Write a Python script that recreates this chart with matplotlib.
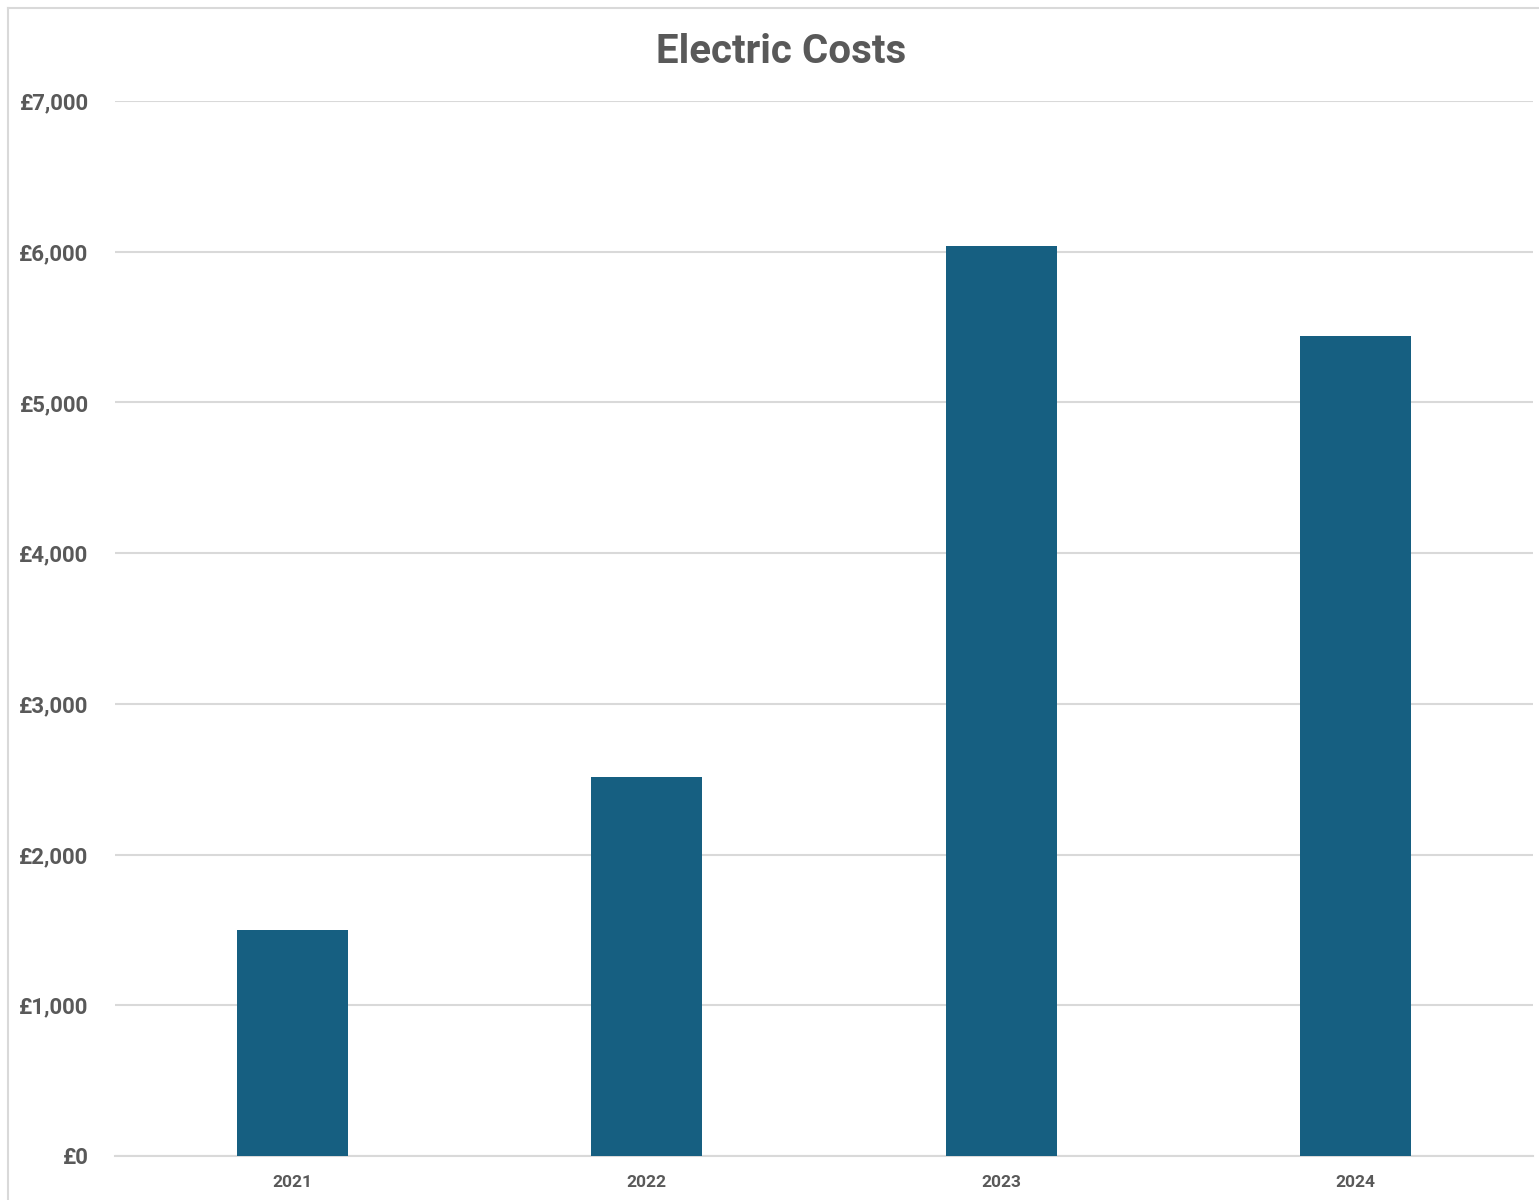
import matplotlib
matplotlib.use("Agg")
import matplotlib.pyplot as plt
from matplotlib.ticker import FuncFormatter
from matplotlib.lines import Line2D

years = ["2021", "2022", "2023", "2024"]
costs = [1500, 2515, 6035, 5440]
yticks = [0, 1000, 2000, 3000, 4000, 5000, 6000, 7000]

text_color = "#595959"
bar_color = "#165f81"
grid_color = "#d9d9d9"

plt.rcParams['font.family'] = ['Roboto', 'DejaVu Sans']

fig = plt.figure(figsize=(15.39, 12), dpi=100)
ax = fig.add_axes([115/1539, 1 - 1156/1200, (1533-115)/1539, (1156-101)/1200])

x = list(range(len(years)))
ax.bar(x, costs, width=0.313, color=bar_color, zorder=3)
ax.set_xlim(-0.5, len(years) - 0.5)
ax.set_ylim(0, 7000)
ax.set_yticks(yticks)
ax.yaxis.set_major_formatter(FuncFormatter(lambda v, p: f"£{int(v):,}"))
ax.set_xticks(x)
ax.set_xticklabels(years)

ax.grid(axis='y', color=grid_color, linewidth=1.5, zorder=0)
ax.set_axisbelow(True)
for s in ["top", "right", "left"]:
    ax.spines[s].set_visible(False)
ax.spines["bottom"].set_color(grid_color)
ax.spines["bottom"].set_linewidth(1.5)
ax.tick_params(axis='both', length=0)
ax.tick_params(axis='y', pad=19, labelsize=16, labelcolor=text_color)
ax.tick_params(axis='x', pad=14, labelsize=12.5, labelcolor=text_color)
for lbl in ax.get_yticklabels() + ax.get_xticklabels():
    lbl.set_fontweight('bold')

fig.text(781/1539, 1 - 52/1200, "Electric Costs", ha='center', va='center',
         fontsize=29, fontweight='bold', color=text_color)

# partial chart border (top & left visible)
fig.add_artist(Line2D([7.5/1539, 1.0], [1 - 7.5/1200]*2, color=grid_color, lw=1.5,
                      transform=fig.transFigure))
fig.add_artist(Line2D([7.5/1539]*2, [0, 1 - 7.5/1200], color=grid_color, lw=1.5,
                      transform=fig.transFigure))

fig.savefig("out.png", dpi=100, facecolor="white")
